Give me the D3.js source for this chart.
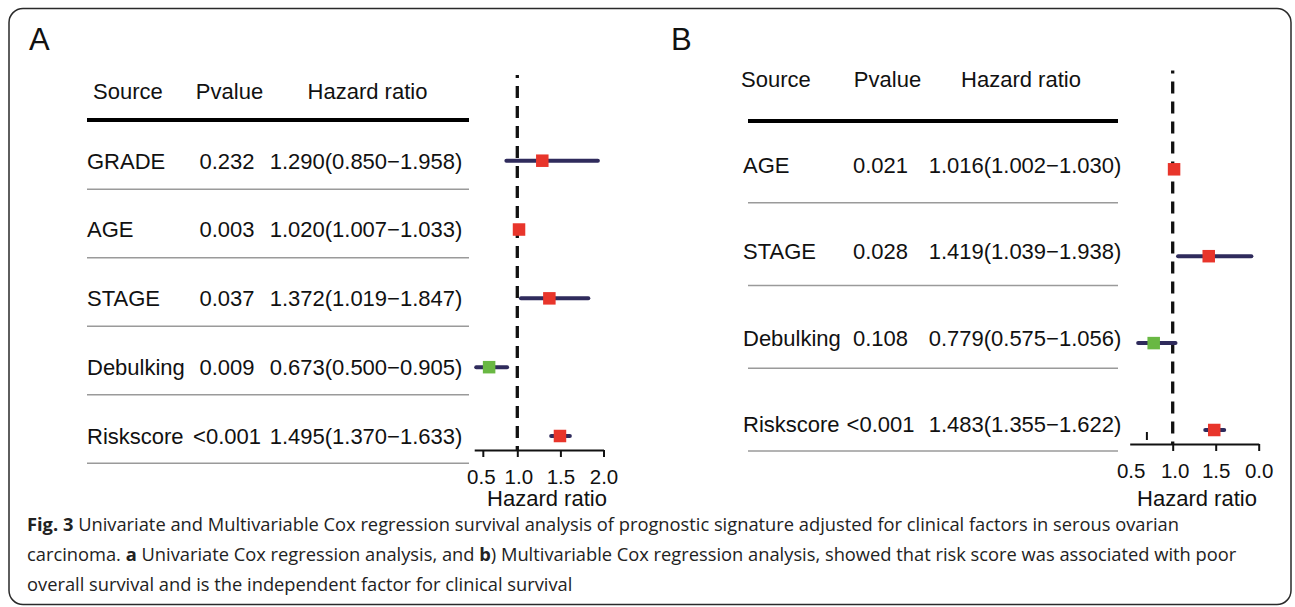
<!DOCTYPE html>
<html><head><meta charset="utf-8">
<script src="https://cdn.jsdelivr.net/npm/d3@7"></script>
<style>
html,body{margin:0;padding:0;background:#fff;}
svg{display:block;}
</style></head>
<body>
<svg id="chart" width="1295" height="607"></svg>
<script>
// ---------- data ----------
const headers = ["Source", "Pvalue", "Hazard ratio"];

const rowsA = ["GRADE", "AGE", "STAGE", "Debulking", "Riskscore"];
const pA    = ["0.232", "0.003", "0.037", "0.009", "<0.001"];
const hrA   = [1.290, 1.020, 1.372, 0.673, 1.495];
const loA   = [0.850, 1.007, 1.019, 0.500, 1.370];
const hiA   = [1.958, 1.033, 1.847, 0.905, 1.633];

const rowsB = ["AGE", "STAGE", "Debulking", "Riskscore"];
const pB    = ["0.021", "0.028", "0.108", "<0.001"];
const hrB   = [1.016, 1.419, 0.779, 1.483];
const loB   = [1.002, 1.039, 0.575, 1.355];
const hiB   = [1.030, 1.938, 1.056, 1.622];

// axis ticks as printed in the figure
const tickPosA    = [0.6, 1.0, 1.5, 2.0];
const tickLabelsA = ["0.5", "1.0", "1.5", "2.0"];
const tickPosB    = [0.5, 1.0, 1.5, 2.0];
const tickLabelsB = ["0.5", "1.0", "1.5", "0.0"];
const strayTickB  = [0.7];

const axisTitle = "Hazard ratio";
const captionLines = [
  [["Fig. 3", true], [" Univariate and Multivariable Cox regression survival analysis of prognostic signature adjusted for clinical factors in serous ovarian", false]],
  [["carcinoma. ", false], ["a", true], [" Univariate Cox regression analysis, and ", false], ["b", true], [") Multivariable Cox regression analysis, showed that risk score was associated with poor", false]],
  [["overall survival and is the independent factor for clinical survival", false]]
];

// ---------- drawing ----------
const svg = d3.select("#chart");
const FONT = "'Liberation Sans', Arial, sans-serif";
const FS = 22;
const NAVY = "#2f2b5c", RED = "#e8352b", GREEN = "#69b843";
const fmt = d3.format(".3f");
const hrText = (h, l, u) => `${fmt(h)}(${fmt(l)}\u2212${fmt(u)})`;

// frame
svg.append("rect").attr("x", 9).attr("y", 8.5).attr("width", 1282).attr("height", 596)
  .attr("rx", 14).attr("fill", "none").attr("stroke", "#2a2a2a").attr("stroke-width", 1.5);

function panel(cfg) {
  const g = svg.append("g");
  const n = cfg.rows.length;
  // panel letter
  g.append("text").attr("x", cfg.letterX).attr("y", 50).text(cfg.letter)
    .attr("font-family", FONT).attr("font-size", 31).attr("fill", "#111");
  // headers
  headers.forEach((h, i) => {
    g.append("text").attr("x", cfg.headX[i]).attr("y", cfg.headY).text(h)
      .attr("text-anchor", i === 0 ? "start" : "middle")
      .attr("font-family", FONT).attr("font-size", FS).attr("fill", "#111");
  });
  // thick rule
  g.append("line").attr("x1", cfg.tx0).attr("x2", cfg.tx1).attr("y1", cfg.thickY).attr("y2", cfg.thickY)
    .attr("stroke", "#000").attr("stroke-width", 4);
  const idx = d3.range(n);
  const yText = d3.scaleLinear().domain([0, n - 1]).range(cfg.textY);
  const yMark = d3.scaleLinear().domain([0, n - 1]).range(cfg.markY);
  const yRule = d3.scaleLinear().domain([0, n - 1]).range(cfg.ruleY);
  // thin rules
  g.selectAll("line.rule").data(idx).join("line").attr("class", "rule")
    .attr("x1", cfg.tx0).attr("x2", cfg.tx1)
    .attr("y1", i => yRule(i)).attr("y2", i => yRule(i))
    .attr("stroke", "#9a9a9a").attr("stroke-width", 1.5);
  // table text
  const cap = FS * 0.36;
  g.selectAll("text.src").data(idx).join("text").attr("class", "src")
    .attr("x", cfg.colX[0]).attr("y", i => yText(i) + cap).text(i => cfg.rows[i])
    .attr("font-family", FONT).attr("font-size", FS).attr("fill", "#111");
  g.selectAll("text.pv").data(idx).join("text").attr("class", "pv")
    .attr("x", cfg.colX[1]).attr("y", i => yText(i) + cap).text(i => cfg.p[i])
    .attr("text-anchor", "middle")
    .attr("font-family", FONT).attr("font-size", FS).attr("fill", "#111");
  g.selectAll("text.hr").data(idx).join("text").attr("class", "hr")
    .attr("x", cfg.colX[2]).attr("y", i => yText(i) + cap).text(i => hrText(cfg.hr[i], cfg.lo[i], cfg.hi[i]))
    .attr("text-anchor", "middle")
    .attr("font-family", FONT).attr("font-size", FS).attr("fill", "#111");

  // forest part
  const x = d3.scaleLinear().domain([0.5, 2.0]).range(cfg.xRange);
  const ax = g.append("g").attr("transform", `translate(0,${cfg.axisY})`)
    .call(d3.axisBottom(x).tickValues(cfg.tickPos).tickSize(7).tickSizeOuter(0)
      .tickFormat((d, i) => cfg.tickLabels[i]));
  ax.select(".domain").attr("stroke", "#111").attr("stroke-width", 2);
  ax.selectAll(".tick line").attr("stroke", "#111").attr("stroke-width", 2);
  if (cfg.hideFirstTick) ax.selectAll(".tick line").filter((d, i) => i === 0).remove();
  ax.selectAll(".tick text").attr("y", 34).attr("dy", 0).attr("dx", (d, i) => cfg.labelDx[i])
    .attr("font-family", FONT).attr("font-size", 20.5).attr("fill", "#111");
  g.selectAll("line.stray").data(cfg.stray).join("line").attr("class", "stray")
    .attr("x1", d => x(d)).attr("x2", d => x(d))
    .attr("y1", cfg.axisY - 12).attr("y2", cfg.axisY - 4)
    .attr("stroke", "#111").attr("stroke-width", 2);
  g.append("text").attr("x", cfg.titleX).attr("y", 506).attr("text-anchor", "middle").text(axisTitle)
    .attr("font-family", FONT).attr("font-size", FS).attr("fill", "#111");

  // reference line
  g.append("line").attr("x1", x(1)).attr("x2", x(1)).attr("y1", cfg.refTop).attr("y2", cfg.axisY)
    .attr("stroke", "#111").attr("stroke-width", 3.3)
    .attr("stroke-dasharray", "12,8").attr("stroke-dashoffset", 9);

  // CIs
  g.selectAll("line.ci").data(idx).join("line").attr("class", "ci")
    .attr("x1", i => x(cfg.lo[i]) + 2).attr("x2", i => x(cfg.hi[i]) - 2)
    .attr("y1", i => yMark(i)).attr("y2", i => yMark(i))
    .attr("stroke", NAVY).attr("stroke-width", 4).attr("stroke-linecap", "round");
  const S = 12.5;
  g.selectAll("rect.box").data(idx).join("rect").attr("class", "box")
    .attr("x", i => x(cfg.hr[i]) - S / 2).attr("y", i => yMark(i) - S / 2)
    .attr("width", S).attr("height", S)
    .attr("fill", i => cfg.hr[i] >= 1 ? RED : GREEN);
}

panel({
  letter: "A", letterX: 29,
  rows: rowsA, p: pA, hr: hrA, lo: loA, hi: hiA,
  headX: [93, 229.5, 367.5], headY: 99,
  colX: [87, 227, 366],
  tx0: 87, tx1: 469, thickY: 120,
  textY: [160.7, 436], markY: [160.7, 436], ruleY: [189.3, 463.3],
  xRange: [474.2, 603.5], axisY: 450, refTop: 75,
  tickPos: tickPosA, tickLabels: tickLabelsA, labelDx: [-2, 1, 0, 0], hideFirstTick: false, stray: [],
  titleX: 547
});

panel({
  letter: "B", letterX: 671,
  rows: rowsB, p: pB, hr: hrB, lo: loB, hi: hiB,
  headX: [741, 887.5, 1021], headY: 86.5,
  colX: [743, 880.5, 1025],
  tx0: 748, tx1: 1118, thickY: 121,
  textY: [165, 424], markY: [169.3, 430], ruleY: [202.7, 451],
  xRange: [1129.7, 1258.7], axisY: 444, refTop: 70.5,
  tickPos: tickPosB, tickLabels: tickLabelsB, labelDx: [1, 2, 0, 0], hideFirstTick: true, stray: strayTickB,
  titleX: 1197
});

// caption
const CAPF = "'Open Sans', 'Noto Sans', sans-serif";
const capG = svg.append("g");
const capTexts = captionLines.map((segs, li) => {
  const t = capG.append("text").attr("font-family", CAPF).attr("font-size", 18)
    .attr("fill", "#222").attr("x", 0).attr("y", 0);
  segs.forEach(([s, b]) => t.append("tspan").text(s).attr("font-weight", b ? 700 : 400));
  return t;
});
const w2 = capTexts[1].node().getComputedTextLength();
const sx = (1237 - 27) / w2;
const capY = [531, 561, 591];
capTexts.forEach((t, i) => t.attr("transform", `translate(27,${capY[i]}) scale(${sx},1)`));
</script>
</body></html>
